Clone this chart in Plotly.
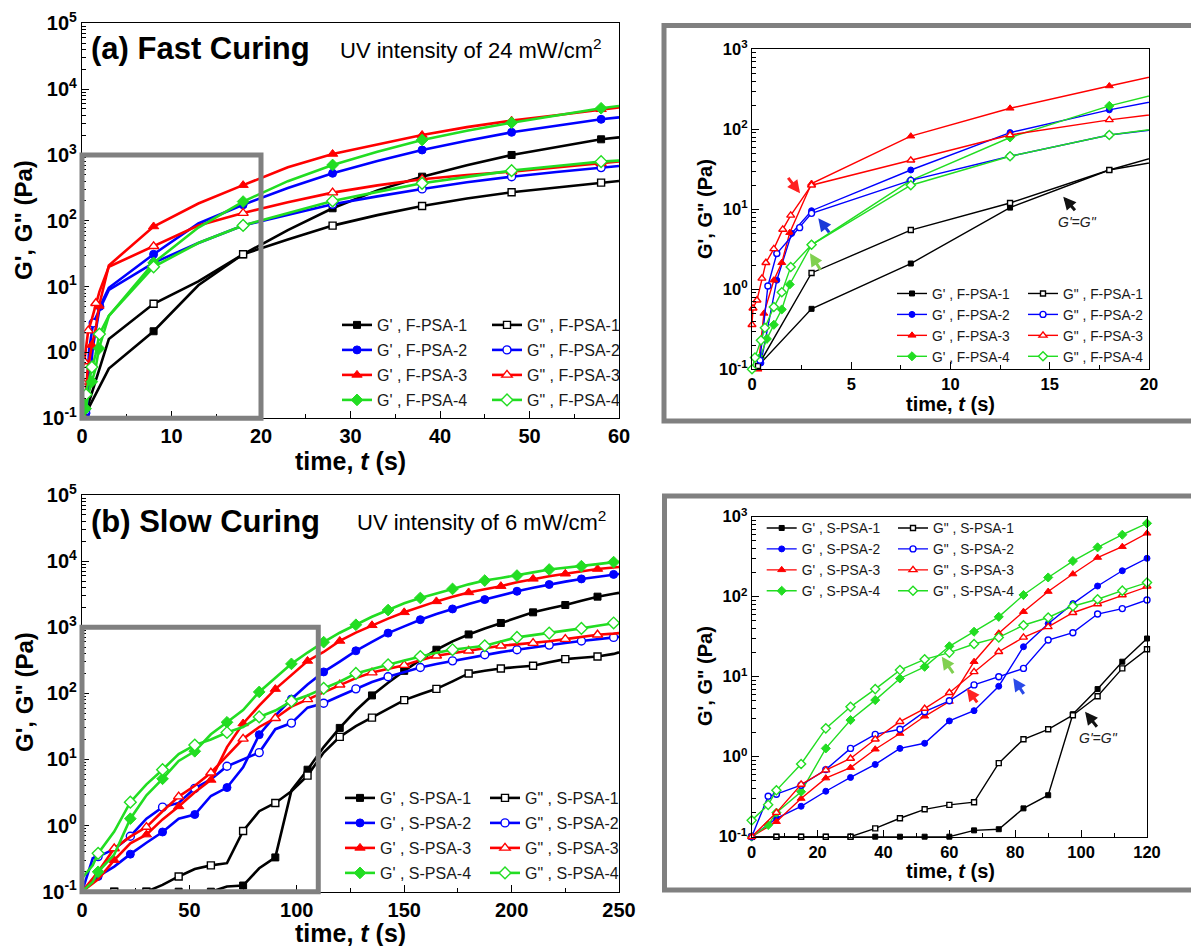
import plotly.graph_objects as go

W, H = 1191, 946
FONT = "Liberation Sans, Arial, sans-serif"

# ---------------- FAST CURING (24 mW/cm2) ----------------
FAST_T_LATE = [3, 8, 13, 18, 23, 28, 33, 38, 43, 48, 53, 58, 60]

F1_GP_T_EARLY = [0.3]
F1_GP_EARLY = [0.11]
F1_GP_LATE = [0.57, 2.1, 10.5, 31, 72, 155, 290, 468, 700, 1000, 1330, 1730, 1850]
F1_GPP_T_EARLY = [0.3]
F1_GPP_EARLY = [0.11]
F1_GPP_LATE = [1.6, 5.5, 12, 31, 52, 84.5, 122, 168, 218, 271, 323, 380, 403]

F2_GP_T_EARLY = [0.45, 1.25, 2.0]
F2_GP_EARLY = [0.12, 1.3, 5.0]
F2_GP_LATE = [9.6, 31, 91, 175, 315, 527, 810, 1190, 1650, 2210, 2800, 3480, 3730]
F2_GPP_T_EARLY = [0.4, 0.8, 1.25, 2.4]
F2_GPP_EARLY = [0.13, 1.1, 2.8, 5.9]
F2_GPP_LATE = [8.9, 23, 46, 85, 124, 178, 235, 305, 385, 468, 550, 643, 681]

F3_GP_T_EARLY = [0.3, 0.6, 1.1, 1.5, 1.9]
F3_GP_EARLY = [0.1, 0.5, 1.3, 2.15, 5.1]
F3_GP_LATE = [21, 82, 183, 348, 650, 1035, 1450, 2010, 2650, 3320, 4000, 4940, 5250]
F3_GPP_T_EARLY = [0, 0.05, 0.25, 0.5, 0.7, 1.1, 1.55, 1.95]
F3_GPP_EARLY = [0.36, 0.58, 0.73, 1.37, 2.15, 3.2, 5.6, 8.4]
F3_GPP_LATE = [20, 41, 85, 131, 192, 268, 345, 427, 495, 558, 650, 747, 794]

F4_GP_T_EARLY = [0.4, 0.75, 1.1, 1.5, 1.9]
F4_GP_EARLY = [0.14, 0.24, 0.36, 0.56, 1.15]
F4_GP_LATE = [3.6, 23, 79, 196, 400, 705, 1120, 1690, 2330, 3090, 4000, 5120, 5540]
F4_GPP_T_EARLY = [0, 0.15, 0.45, 0.65, 1.1, 1.5, 1.95]
F4_GPP_EARLY = [0.1, 0.14, 0.23, 0.33, 0.6, 0.92, 1.9]
F4_GPP_LATE = [3.6, 20, 46, 85, 129, 200, 275, 371, 465, 578, 680, 792, 820]

# ---------------- SLOW CURING (6 mW/cm2) ----------------
SLOW_T = [0, 5, 7.5, 15, 22.5, 30, 37.5, 45, 52.5, 60, 67.5, 75, 82.5, 90, 97.5, 105,
          112.5, 120, 127.5, 135, 142.5, 150, 157.5, 165, 172.5, 180, 187.5, 195,
          202.5, 210, 217.5, 225, 232.5, 240, 247.5, 250]

S1_GP = [0.1, None, 0.1, 0.1, 0.1, 0.1, 0.1, 0.1, 0.1, 0.1, 0.12, 0.124, 0.226, 0.33, 3.4,
         7.0, 15.4, 30, 55, 93, 145, 219, 320, 457, 610, 778, 960, 1160, 1400, 1680, 1920,
         2170, 2520, 2900, 3200, 3310]
S1_GPP = [0.1, None, 0.1, 0.1, 0.1, 0.1, 0.127, 0.17, 0.22, 0.25, 0.27, 0.83, 1.65, 2.2,
          3.3, 5.7, 12.7, 22, 32, 43, 58, 79, 97, 117, 152, 200, 220, 238, 250, 261, 295,
          329, 345, 361, 395, 417]
S2_GP = [0.1, None, 0.17, 0.24, 0.37, 0.55, 0.8, 1.27, 1.47, 2.8, 3.76, 7.6, 23.7, 46, 82,
         136, 211, 302, 440, 600, 815, 1030, 1300, 1580, 1890, 2250, 2620, 3050, 3500,
         3950, 4430, 4900, 5380, 5850, 6300, 6400]
S2_GPP = [0.1, 0.32, 0.34, 0.44, 0.69, 1.27, 1.9, 2.2, 3.65, 5.0, 7.9, 10, 12.7, 28.7,
          35.5, 60.7, 71, 91, 117, 148, 178, 212, 246, 278, 310, 345, 383, 420, 457, 497,
          537, 578, 620, 660, 702, 715]
S3_GP = [0.1, None, 0.154, 0.3, 0.54, 0.73, 1.24, 1.95, 3.2, 4.9, 15.4, 35, 65, 116, 192,
         309, 422, 620, 830, 1070, 1350, 1680, 2050, 2460, 2900, 3360, 3750, 4180, 4800,
         5390, 5900, 6440, 7000, 7590, 8000, 8140]
S3_GPP = [0.1, None, 0.2, 0.45, 0.68, 0.95, 1.65, 2.74, 4.0, 6.3, 11.5, 20.5, 31, 42, 63,
          81, 105, 135, 170, 206, 235, 267, 318, 370, 405, 440, 480, 525, 550, 575, 615,
          660, 715, 771, 800, 815]
S4_GP = [0.1, 0.14, 0.2, 0.365, 1.27, 2.87, 5.1, 9.5, 13.3, 24, 36.5, 56, 105, 174, 279,
         414, 595, 826, 1090, 1440, 1820, 2300, 2770, 3280, 3800, 4450, 5080, 5550, 6050,
         6750, 7470, 7900, 8390, 9000, 9660, 9800]
S4_GPP = [0.16, 0.25, 0.38, 0.81, 2.26, 4.2, 7.0, 12.1, 16.5, 20, 25.6, 31, 44, 55, 76,
          93, 119, 150, 200, 235, 270, 315, 361, 410, 457, 490, 525, 610, 702, 760, 815,
          885, 960, 1050, 1160, 1180]

FAST_NAMES = ["F-PSA-1", "F-PSA-2", "F-PSA-3", "F-PSA-4"]
SLOW_NAMES = ["S-PSA-1", "S-PSA-2", "S-PSA-3", "S-PSA-4"]

# ---------------- styles ----------------
COLORS = ["#000000", "#0000ff", "#ff0000", "#22dd22"]
SYMBOLS = ["square", "circle", "triangle-up", "diamond"]
MAIN_MS = [7, 8, 9, 9]
INSET_MS = [5, 6, 7, 7]
SLOW_PHASE = [0, 1, 0, 1]  # which alternate points carry markers in main (b)

fast_series = [
    (F1_GP_T_EARLY + FAST_T_LATE, F1_GP_EARLY + F1_GP_LATE, F1_GPP_T_EARLY + FAST_T_LATE, F1_GPP_EARLY + F1_GPP_LATE),
    (F2_GP_T_EARLY + FAST_T_LATE, F2_GP_EARLY + F2_GP_LATE, F2_GPP_T_EARLY + FAST_T_LATE, F2_GPP_EARLY + F2_GPP_LATE),
    (F3_GP_T_EARLY + FAST_T_LATE, F3_GP_EARLY + F3_GP_LATE, F3_GPP_T_EARLY + FAST_T_LATE, F3_GPP_EARLY + F3_GPP_LATE),
    (F4_GP_T_EARLY + FAST_T_LATE, F4_GP_EARLY + F4_GP_LATE, F4_GPP_T_EARLY + FAST_T_LATE, F4_GPP_EARLY + F4_GPP_LATE),
]
slow_series = [(S1_GP, S1_GPP), (S2_GP, S2_GPP), (S3_GP, S3_GPP), (S4_GP, S4_GPP)]


def fast_main_mask(ts):
    return [1 if (t < 3 and i % 2 == 0) or (t >= 8 and (t - 8) % 10 == 0) else 0
            for i, t in enumerate(ts)]


def slow_main_mask(ts, phase):
    out = []
    for t in ts:
        k = t / 7.5
        out.append(1 if abs(k - round(k)) < 1e-9 and int(round(k)) % 2 == phase else 0)
    return out


def marker(i, filled, size, opacity=1):
    return dict(symbol=SYMBOLS[i], size=size,
                color=COLORS[i] if filled else "white",
                opacity=opacity,
                line=dict(color=COLORS[i], width=1 if filled else 1.4))


fig = go.Figure()


def add(t, v, i, filled, xa, ya, lw, ms, legend, name, showlegend, opacity=1, clip=True):
    fig.add_trace(go.Scatter(
        x=t, y=v, mode="lines+markers", name=name, xaxis=xa, yaxis=ya,
        line=dict(color=COLORS[i], width=lw), marker=marker(i, filled, ms, opacity),
        legend=legend, showlegend=showlegend, legendgroup=f"{legend}_{i}",
        connectgaps=True, cliponaxis=clip, hoverinfo="skip"))


def add_legend_only(i, filled, xa, ya, lw, ms, legend, name):
    fig.add_trace(go.Scatter(
        x=[None], y=[None], mode="lines+markers", name=name, xaxis=xa, yaxis=ya,
        line=dict(color=COLORS[i], width=lw), marker=marker(i, filled, ms),
        legend=legend, showlegend=True, legendgroup=f"{legend}_{i}", hoverinfo="skip"))


# ---- panel (a): main fast ----
for i, (tp, vp, tpp, vpp) in enumerate(fast_series):
    add(tp, vp, i, True, "x", "y", 2.6, MAIN_MS[i], "legend", "", False, fast_main_mask(tp))
    add(tpp, vpp, i, False, "x", "y", 2.6, MAIN_MS[i], "legend2", "", False, fast_main_mask(tpp))
for i in range(4):
    add_legend_only(i, True, "x", "y", 2.6, MAIN_MS[i], "legend", f"G' , {FAST_NAMES[i]}")
for i in range(4):
    add_legend_only(i, False, "x", "y", 2.6, MAIN_MS[i], "legend2", f"G\" , {FAST_NAMES[i]}")

# ---- inset fast ----
for i, (tp, vp, tpp, vpp) in enumerate(fast_series):
    add(tp, vp, i, True, "x2", "y2", 1.4, INSET_MS[i], "legend3", f"G' , {FAST_NAMES[i]}", True, clip=False)
for i, (tp, vp, tpp, vpp) in enumerate(fast_series):
    add(tpp, vpp, i, False, "x2", "y2", 1.4, INSET_MS[i], "legend4", f"G\" , {FAST_NAMES[i]}", True, clip=False)

# ---- panel (b): main slow ----
for i, (vp, vpp) in enumerate(slow_series):
    add(SLOW_T, vp, i, True, "x3", "y3", 2.6, MAIN_MS[i], "legend5", "", False,
        slow_main_mask(SLOW_T, SLOW_PHASE[i]))
    add(SLOW_T, vpp, i, False, "x3", "y3", 2.6, MAIN_MS[i], "legend6", "", False,
        slow_main_mask(SLOW_T, SLOW_PHASE[i]))
for i in range(4):
    add_legend_only(i, True, "x3", "y3", 2.6, MAIN_MS[i], "legend5", f"G' , {SLOW_NAMES[i]}")
for i in range(4):
    add_legend_only(i, False, "x3", "y3", 2.6, MAIN_MS[i], "legend6", f"G\" , {SLOW_NAMES[i]}")

# ---- inset slow ----
for i, (vp, vpp) in enumerate(slow_series):
    add(SLOW_T, vp, i, True, "x4", "y4", 1.4, INSET_MS[i], "legend7", f"G' , {SLOW_NAMES[i]}", True, clip=False)
for i, (vp, vpp) in enumerate(slow_series):
    add(SLOW_T, vpp, i, False, "x4", "y4", 1.4, INSET_MS[i], "legend8", f"G\" , {SLOW_NAMES[i]}", True, clip=False)


# ---------------- axes ----------------
def px_x(a, b):
    return [a / W, b / W]


def px_y(top, bottom):
    return [1 - bottom / H, 1 - top / H]


def xax(domain, anchor, rng, step, size):
    major = list(range(rng[0], rng[1] + 1, step))
    minor = [m + step / 2 for m in major[:-1]]
    return dict(domain=domain, anchor=anchor, range=rng, tickmode="array", tickvals=major,
                ticks="inside", ticklen=7, tickwidth=1.2, tickcolor="black",
                minor=dict(tickmode="array", tickvals=minor, ticks="inside", ticklen=4,
                           tickwidth=1, tickcolor="black"),
                showline=True, linecolor="black", linewidth=1.2, mirror=True,
                showgrid=False, zeroline=False, automargin=False,
                tickfont=dict(family=FONT, size=size, weight="bold", color="black"))


def yax(domain, anchor, lo, hi, size):
    major = [10.0 ** e for e in range(lo, hi + 1)]
    text = [f"10<sup>{e}</sup>" for e in range(lo, hi + 1)]
    minor = [m * 10.0 ** e for e in range(lo, hi) for m in range(2, 10)]
    return dict(domain=domain, anchor=anchor, type="log", range=[lo, hi], tickmode="array",
                tickvals=major, ticktext=text, ticks="inside", ticklen=7, tickwidth=1.2,
                tickcolor="black",
                minor=dict(tickmode="array", tickvals=minor, ticks="inside", ticklen=4,
                           tickwidth=1, tickcolor="black"),
                showline=True, linecolor="black", linewidth=1.2, mirror=True,
                showgrid=False, zeroline=False, automargin=False,
                tickfont=dict(family=FONT, size=size, weight="bold", color="black"))


A_X = [0, 60]
B_X = [0, 250]
TR_X = [0, 20]
BR_X = [0, 120]
BOX_B_T = 110  # right edge of the highlighted region in (b)

fig.update_layout(
    xaxis=xax(px_x(82, 619), "y", A_X, 10, 20),
    yaxis=yax(px_y(23.3, 418.3), "x", -1, 5, 20),
    xaxis2=xax(px_x(752, 1149), "y2", TR_X, 5, 16.5),
    yaxis2=yax(px_y(49.3, 369.3), "x2", -1, 3, 16.5),
    xaxis3=xax(px_x(82, 619), "y3", B_X, 50, 20),
    yaxis3=yax(px_y(495, 891.7), "x3", -1, 5, 20),
    xaxis4=xax(px_x(751.7, 1147), "y4", BR_X, 20, 16.5),
    yaxis4=yax(px_y(516.7, 836.7), "x4", -1, 3, 16.5),
)
fig.update_xaxes(minor=dict(tickvals=[2.5, 7.5, 12.5, 17.5]), selector=dict(anchor="y2"))


def legend(x_text_px, top_px, size, gap):
    return dict(x=(x_text_px - 40) / W, y=1 - top_px / H, xanchor="left", yanchor="top",
                bgcolor="rgba(0,0,0,0)", borderwidth=0, tracegroupgap=gap,
                traceorder="grouped", itemwidth=30,
                font=dict(family=FONT, size=size, color="#1a1a1a"))


fig.update_layout(
    legend=legend(377, 308, 16, 1.2),
    legend2=legend(527, 308, 16, 1.2),
    legend3=legend(932, 278, 13.8, 0),
    legend4=legend(1063, 278, 13.8, 0),
    legend5=legend(380, 781, 16, 1.2),
    legend6=legend(525, 781, 16, 1.2),
    legend7=legend(801.7, 512.5, 13.8, 0),
    legend8=legend(933, 512.5, 13.8, 0),
)

# ---------------- shapes ----------------
GRAY = "#808080"
shapes = [
    dict(type="rect", xref="x domain", yref="y domain",
         x0=0, x1=(TR_X[1] - A_X[0]) / (A_X[1] - A_X[0]), y0=0, y1=4 / 6,
         line=dict(color=GRAY, width=5), layer="above"),
    dict(type="rect", xref="x3 domain", yref="y3 domain",
         x0=0, x1=(BOX_B_T - B_X[0]) / (B_X[1] - B_X[0]), y0=0, y1=4 / 6,
         line=dict(color=GRAY, width=5), layer="above"),
    dict(type="rect", xref="paper", yref="paper", x0=664 / W, x1=1.02,
         y0=1 - 421 / H, y1=1 - 25.5 / H, line=dict(color=GRAY, width=5)),
    dict(type="rect", xref="paper", yref="paper", x0=664.5 / W, x1=1.02,
         y0=1 - 890 / H, y1=1 - 496 / H, line=dict(color=GRAY, width=5)),
]
fig.update_layout(shapes=shapes)

# ---------------- annotations ----------------
ann = []


def text(x, y, s, size, bold=False, italic=False, angle=0, anchor="center"):
    ann.append(dict(xref="paper", yref="paper", x=x / W, y=1 - y / H, text=s, showarrow=False,
                    xanchor=anchor, yanchor="middle", textangle=angle,
                    font=dict(family=FONT, size=size, color="black",
                              weight="bold" if bold else "normal",
                              style="italic" if italic else "normal")))


text(89, 48, "(a) Fast Curing", 31, bold=True, anchor="left")
text(338, 49, "UV intensity of 24 mW/cm<sup>2</sup>", 22, anchor="left")
text(89, 521, "(b) Slow Curing", 31, bold=True, anchor="left")
text(355, 521, "UV intensity of 6 mW/cm<sup>2</sup>", 22, anchor="left")

text(24, 220, "G', G\" (Pa)", 24, bold=True, angle=-90)
text(350, 461, "time, <i>t</i> (s)", 25, bold=True)
text(24, 692, "G', G\" (Pa)", 24, bold=True, angle=-90)
text(350, 933, "time, <i>t</i> (s)", 25, bold=True)

text(705, 209, "G', G\" (Pa)", 20, bold=True, angle=-90)
text(950, 404, "time, <i>t</i> (s)", 20, bold=True)
text(705, 676, "G', G\" (Pa)", 20, bold=True, angle=-90)
text(950, 871, "time, <i>t</i> (s)", 20, bold=True)


def arrow(xa, ya, x, logy, ax, ay, color):
    ann.append(dict(xref=xa, yref=ya, x=x, y=logy, ax=ax, ay=ay, text="", showarrow=True,
                    arrowhead=2, arrowsize=0.85, arrowwidth=3, arrowcolor=color, standoff=0))


def dtext(xa, ya, x, logy, s):
    ann.append(dict(xref=xa, yref=ya, x=x, y=logy, text=s, showarrow=False,
                    font=dict(family=FONT, size=14, color="#222222", style="italic")))


arrow("x2", "y2", 2.42, 1.2, -13, -17, "#ff2020")
arrow("x2", "y2", 3.34, 0.8875, 12, 15.5, "#1a3ad8")
arrow("x2", "y2", 2.92, 0.45, 11.5, 18, "#80d050")
arrow("x2", "y2", 15.68, 1.1575, 13, 15, "#111111")
dtext("x2", "y2", 16.4, 0.84, "G'=G\"")

arrow("x4", "y4", 57.7, 1.25, 12.5, 18, "#80d050")
arrow("x4", "y4", 65.3, 0.855, 11.5, 15.5, "#ff2020")
arrow("x4", "y4", 79.4, 0.98, 11.5, 17, "#2a4ae8")
arrow("x4", "y4", 101.2, 0.5625, 13, 16.5, "#111111")
dtext("x4", "y4", 105.4, 0.234, "G'=G\"")

fig.update_layout(annotations=ann)

fig.update_layout(width=W, height=H, margin=dict(l=0, r=0, t=0, b=0, autoexpand=False),
                  paper_bgcolor="white", plot_bgcolor="white",
                  font=dict(family=FONT), hovermode=False)

fig.write_html("out.html", config={"displayModeBar": False},
               post_script="document.body.style.margin='0px';"
                           "document.body.style.overflow='hidden';")
